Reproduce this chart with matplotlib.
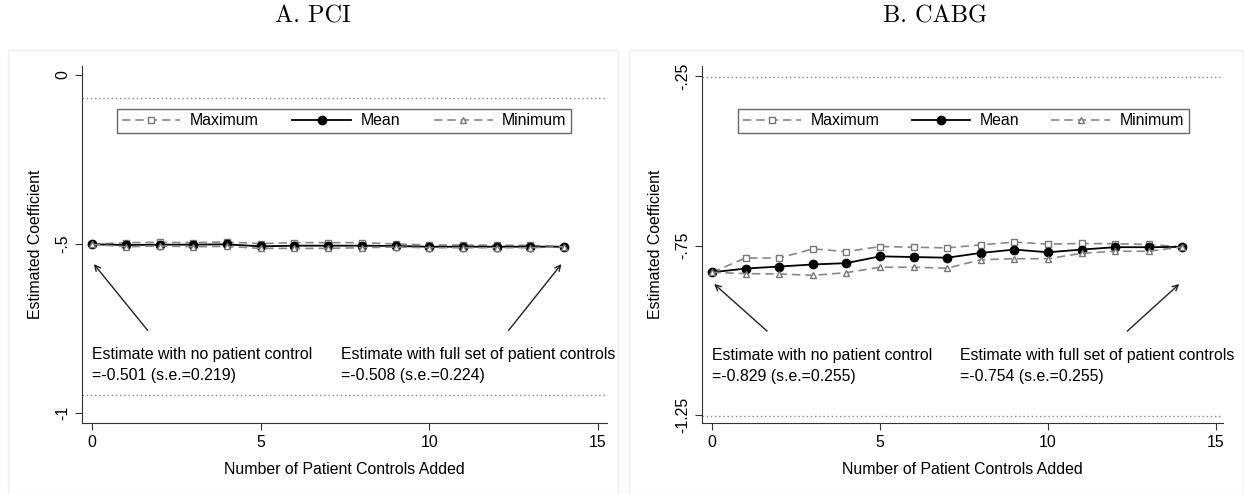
import matplotlib
matplotlib.use("Agg")
import matplotlib.pyplot as plt
import numpy as np
from matplotlib.patches import Rectangle

plt.rcParams['font.family'] = ['Liberation Sans', 'DejaVu Sans']

# number of patient controls added
controls = np.arange(15)

# A. PCI
pci_max = [-0.501, -0.496, -0.495, -0.496, -0.494, -0.499, -0.496, -0.496,
           -0.496, -0.500, -0.503, -0.503, -0.504, -0.504, -0.508]
pci_mean = [-0.501, -0.503, -0.502, -0.502, -0.501, -0.507, -0.505, -0.505,
            -0.505, -0.506, -0.508, -0.508, -0.508, -0.508, -0.508]
pci_min = [-0.501, -0.508, -0.506, -0.508, -0.507, -0.513, -0.513, -0.513,
           -0.511, -0.509, -0.511, -0.511, -0.511, -0.511, -0.508]

# B. CABG
cabg_max = [-0.829, -0.787, -0.787, -0.760, -0.768, -0.753, -0.755, -0.757,
            -0.748, -0.740, -0.746, -0.744, -0.745, -0.747, -0.754]
cabg_mean = [-0.829, -0.818, -0.812, -0.806, -0.802, -0.782, -0.784, -0.786,
             -0.772, -0.762, -0.770, -0.762, -0.755, -0.755, -0.754]
cabg_min = [-0.829, -0.833, -0.834, -0.838, -0.830, -0.814, -0.814, -0.817,
            -0.792, -0.789, -0.789, -0.773, -0.767, -0.767, -0.754]

# estimates (no controls / full set) and their standard errors
pci_est = [-0.501, -0.508]
pci_se = [0.219, 0.224]
cabg_est = [-0.829, -0.754]
cabg_se = [0.255, 0.255]

titles = ["A. PCI", "B. CABG"]
pci_ticks = [0, -0.5, -1]
pci_ticklabels = ["0", "-.5", "-1"]
cabg_ticks = [-0.25, -0.75, -1.25]
cabg_ticklabels = ["-.25", "-.75", "-1.25"]

FS = 11.4
W, H = 1244, 494
fig = plt.figure(figsize=(W / 100, H / 100), dpi=100)

# panel frames
fig.patches.append(Rectangle((8 / W, 0), 610 / W, 444 / H, transform=fig.transFigure,
                             fill=False, edgecolor='#eeeeee', lw=1))
fig.patches.append(Rectangle((629 / W, 0), 614 / W, 444 / H, transform=fig.transFigure,
                             fill=False, edgecolor='#eeeeee', lw=1))

panels = [
    dict(left=82, width=525, xlim=(-0.30, 15.27), ylim=(-1.0295, 0.0265),
         mx=pci_max, mean=pci_mean, mn=pci_min, est=pci_est, se=pci_se,
         ticks=pci_ticks, labels=pci_ticklabels, title_x=313,
         text_y=-0.859, head_y=-0.553, tail_y=-0.762, leg_x=0.0667),
    dict(left=702, width=521, xlim=(-0.30, 15.21), ylim=(-1.2736, -0.2205),
         mx=cabg_max, mean=cabg_mean, mn=cabg_min, est=cabg_est, se=cabg_se,
         ticks=cabg_ticks, labels=cabg_ticklabels, title_x=935,
         text_y=-1.104, head_y=-0.858, tail_y=-1.008, leg_x=0.069),
]

for i, p in enumerate(panels):
    ax = fig.add_axes([p['left'] / W, (H - 423) / H, p['width'] / W, 357 / H])
    ax.set_xlim(*p['xlim'])
    ax.set_ylim(*p['ylim'])

    # confidence bounds of the full-controls estimate
    full, se = p['est'][1], p['se'][1]
    for yv in (full + 1.96 * se, full - 1.96 * se):
        ax.axhline(yv, color='#888888', ls=(0, (1, 2)), lw=1.0)

    ax.plot(controls, p['mx'], ls=(0, (5, 3)), color='#888888', lw=1.2,
            marker='s', ms=5, mfc='white', mec='#777777', mew=1, label='Maximum')
    ax.plot(controls, p['mean'], ls='-', color='black', lw=1.3,
            marker='o', ms=6, mfc='black', mec='black', label='Mean')
    ax.plot(controls, p['mn'], ls=(0, (5, 3)), color='#888888', lw=1.2,
            marker='^', ms=5, mfc='white', mec='#777777', mew=1, label='Minimum')

    for s in ('top', 'right'):
        ax.spines[s].set_visible(False)
    ax.spines['left'].set_color('#333333')
    ax.spines['bottom'].set_color('#333333')
    ax.set_xticks([0, 5, 10, 15])
    ax.set_yticks(p['ticks'])
    ax.set_yticklabels(p['labels'], rotation=90, va='center')
    ax.tick_params(direction='out', length=5, width=0.8, labelsize=FS, colors='#333333',
                   labelcolor='black')
    ax.set_xlabel('Number of Patient Controls Added', fontsize=FS, labelpad=9)
    ax.set_ylabel('Estimated Coefficient', fontsize=FS, labelpad=9)

    leg = ax.legend(loc='lower left', bbox_to_anchor=(p['leg_x'], 0.812, 0.865, 0.084),
                    mode='expand', ncol=3, fontsize=FS, frameon=True, fancybox=False,
                    handlelength=3.7, borderaxespad=0, columnspacing=2.0,
                    borderpad=0.3, handletextpad=0.6)
    leg.get_frame().set_edgecolor('#444444')
    leg.get_frame().set_linewidth(1.0)

    ax.text(0, p['text_y'],
            f"Estimate with no patient control\n={p['est'][0]:.3f} (s.e.={p['se'][0]:.3f})",
            ha='left', va='center', fontsize=FS, linespacing=1.5)
    ax.text(7.39, p['text_y'],
            f"Estimate with full set of patient controls\n={p['est'][1]:.3f} (s.e.={p['se'][1]:.3f})",
            ha='left', va='center', fontsize=FS, linespacing=1.5)

    ax.annotate('', xy=(0, p['head_y']), xytext=(1.7, p['tail_y']),
                arrowprops=dict(arrowstyle='->', color='#222222', lw=1.0))
    ax.annotate('', xy=(13.97, p['head_y']), xytext=(12.3, p['tail_y']),
                arrowprops=dict(arrowstyle='->', color='#222222', lw=1.0))

    fig.text(p['title_x'] / W, 1 - 16 / H, titles[i], ha='center', va='center',
             fontsize=17.5, family='cmr10')

fig.savefig('out.png', dpi=100)
